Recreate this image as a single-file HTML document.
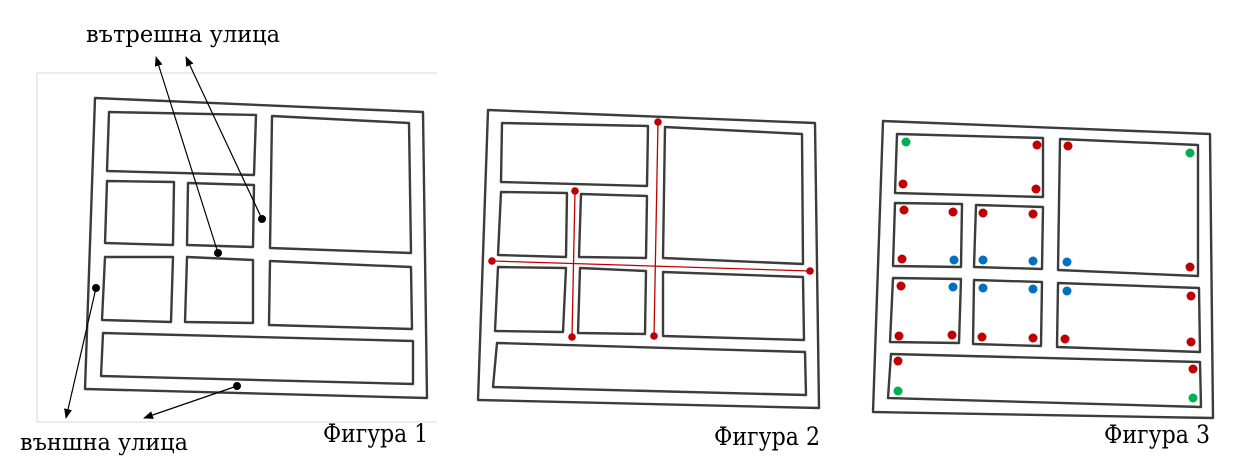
<!DOCTYPE html>
<html><head><meta charset="utf-8"><style>
html,body{margin:0;padding:0;background:#fff;}
svg{display:block;}
text{font-family:"DejaVu Serif","Liberation Serif",serif;fill:#000;}
</style></head><body>
<svg width="1243" height="475" viewBox="0 0 1243 475" xmlns="http://www.w3.org/2000/svg">
<defs>
<marker id="ah" markerWidth="10" markerHeight="8" refX="9" refY="4" orient="auto" markerUnits="userSpaceOnUse">
<path d="M0,0 L10,4 L0,8 Z" fill="#000"/>
</marker>
</defs>
<path d="M437,73 L37,73 L37,422 L437,422" fill="none" stroke="#d8d8d8" stroke-width="1"/>
<g fill="none" stroke="#3c3c3c" stroke-width="2.4" stroke-linejoin="round">
<polygon points="95,98 423,112 427,398 85,389"/>
<polygon points="109,112 256,115 254,175 107,171"/>
<polygon points="272,116 409,123 411,253 270,248"/>
<polygon points="107,181 174,182 173,245 105,243"/>
<polygon points="188,183 254,185 253,247 187,245"/>
<polygon points="105,257 173,257 171,322 102,320"/>
<polygon points="187,257 253,260 253,323 185,322"/>
<polygon points="270,261 411,267 412,329 269,325"/>
<polygon points="103,333 413,341 413,384 101,376"/>
</g>
<g stroke="#000" stroke-width="1.2" marker-end="url(#ah)">
<line x1="218" y1="253" x2="156" y2="57"/>
<line x1="262" y1="219" x2="186" y2="57"/>
<line x1="96" y1="288" x2="66" y2="418"/>
<line x1="237" y1="386" x2="144" y2="418"/>
</g>
<g fill="#000">
<circle cx="262" cy="219" r="4"/><circle cx="218" cy="253" r="4"/>
<circle cx="96" cy="288" r="4"/><circle cx="237" cy="386" r="4"/>
</g>
<text x="86" y="42" font-size="23" textLength="194" lengthAdjust="spacingAndGlyphs">вътрешна улица</text>
<text x="20" y="450" font-size="23" textLength="168" lengthAdjust="spacingAndGlyphs">външна улица</text>
<text x="323" y="442" font-size="25" textLength="105" lengthAdjust="spacingAndGlyphs">Фигура 1</text>

<g fill="none" stroke="#3c3c3c" stroke-width="2.4" stroke-linejoin="round">
<polygon points="488,110 815,123 819,408 478,400"/>
<polygon points="502,123 648,126 647,186 501,182"/>
<polygon points="665,127 802,134 803,264 663,258"/>
<polygon points="501,192 567,193 566,257 498,255"/>
<polygon points="581,194 647,196 646,258 579,257"/>
<polygon points="498,267 566,268 563,332 495,331"/>
<polygon points="580,268 646,271 645,334 578,333"/>
<polygon points="663,272 803,277 804,340 663,336"/>
<polygon points="497,343 805,352 806,395 493,387"/>
</g>
<g stroke="#c00000" stroke-width="1.3">
<line x1="658" y1="122" x2="654" y2="336"/>
<line x1="575" y1="191" x2="572" y2="337"/>
<line x1="492" y1="261" x2="810" y2="271"/>
</g>
<g fill="#c00000">
<circle cx="658" cy="122" r="3.8"/><circle cx="575" cy="191" r="3.8"/>
<circle cx="492" cy="261" r="3.8"/><circle cx="810" cy="271" r="3.8"/>
<circle cx="572" cy="337" r="3.8"/><circle cx="654" cy="336" r="3.8"/>
</g>
<text x="714" y="445" font-size="25" textLength="106" lengthAdjust="spacingAndGlyphs">Фигура 2</text>

<g fill="none" stroke="#3c3c3c" stroke-width="2.4" stroke-linejoin="round">
<polygon points="883,121 1210,134 1213,418 873,412"/>
<polygon points="897,134 1043,138 1043,197 895,193"/>
<polygon points="1060,139 1198,145 1198,276 1058,270"/>
<polygon points="895,203 962,204 961,267 893,266"/>
<polygon points="976,205 1043,207 1042,269 974,267"/>
<polygon points="893,278 961,279 959,343 890,342"/>
<polygon points="974,280 1042,282 1041,346 973,344"/>
<polygon points="1058,283 1199,288 1200,352 1057,347"/>
<polygon points="891,354 1200,362 1201,407 888,398"/>
</g>
<g fill="#c00000">
<circle cx="1037" cy="145" r="4.5"/><circle cx="903" cy="184" r="4.5"/><circle cx="1036" cy="189" r="4.5"/>
<circle cx="1068" cy="146" r="4.5"/><circle cx="1190" cy="267" r="4.5"/>
<circle cx="904" cy="210" r="4.5"/><circle cx="953" cy="212" r="4.5"/><circle cx="902" cy="259" r="4.5"/>
<circle cx="983" cy="213" r="4.5"/><circle cx="1033" cy="214" r="4.5"/>
<circle cx="901" cy="286" r="4.5"/><circle cx="899" cy="336" r="4.5"/><circle cx="952" cy="335" r="4.5"/>
<circle cx="982" cy="337" r="4.5"/><circle cx="1033" cy="338" r="4.5"/>
<circle cx="1191" cy="296" r="4.5"/><circle cx="1065" cy="339" r="4.5"/><circle cx="1191" cy="342" r="4.5"/>
<circle cx="898" cy="361" r="4.5"/><circle cx="1193" cy="369" r="4.5"/>
</g>
<g fill="#00b050">
<circle cx="906" cy="142" r="4.5"/><circle cx="1190" cy="153" r="4.5"/>
<circle cx="898" cy="391" r="4.5"/><circle cx="1193" cy="398" r="4.5"/>
</g>
<g fill="#0070c0">
<circle cx="1067" cy="262" r="4.5"/><circle cx="954" cy="260" r="4.5"/>
<circle cx="983" cy="260" r="4.5"/><circle cx="1033" cy="261" r="4.5"/>
<circle cx="953" cy="287" r="4.5"/><circle cx="983" cy="288" r="4.5"/>
<circle cx="1033" cy="289" r="4.5"/><circle cx="1067" cy="291" r="4.5"/>
</g>
<text x="1104" y="443" font-size="25" textLength="106" lengthAdjust="spacingAndGlyphs">Фигура 3</text>
</svg>
</body></html>
